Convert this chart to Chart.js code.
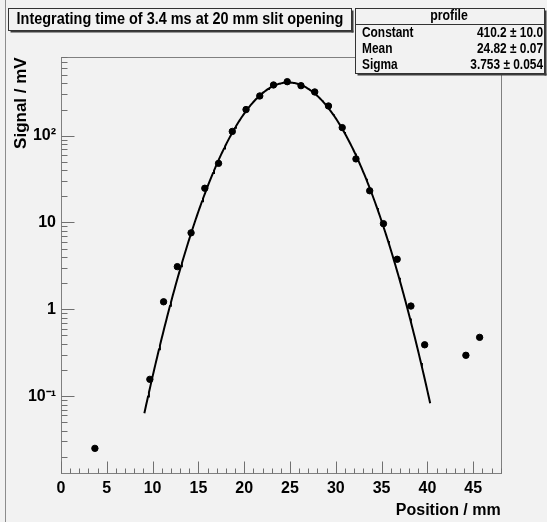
<!DOCTYPE html>
<html>
<head>
<meta charset="utf-8">
<script src="https://cdn.jsdelivr.net/npm/chart.js@4/dist/chart.umd.min.js"></script>
<style>
  html, body { margin: 0; padding: 0; background: #f2f2f2; }
</style>
</head>
<body>
<canvas id="ctx" width="547" height="522"></canvas>
<script>
// beam profile scan: position (mm) vs signal (mV)
const positions = [3.7, 9.7, 11.2, 12.7, 14.2, 15.7, 17.2, 18.7, 20.2, 21.7, 23.2, 24.7,
                   26.2, 27.7, 29.2, 30.7, 32.2, 33.7, 35.2, 36.7, 38.2, 39.7, 44.2, 45.7];
const signal = [0.025, 0.156, 1.22, 3.1, 7.6, 24.8, 48, 112, 200, 287, 384, 419,
                377, 319, 220, 124, 54, 23.2, 9.7, 3.77, 1.09, 0.39, 0.295, 0.475];

// gaussian fit result
const fitConstant = 410.2, fitConstantErr = 10.0;
const fitMean = 24.82, fitMeanErr = 0.07;
const fitSigma = 3.753, fitSigmaErr = 0.054;
const fitRange = [9.1, 40.3];

const xTickValues = [0, 5, 10, 15, 20, 25, 30, 35, 40, 45];
const yTickValues = [0.1, 1, 10, 100];
const yTickText = { 0.1: "10\u207B\u00B9", 1: "1", 10: "10", 100: "10\u00B2" };

const FONT = '"Liberation Sans", Arial, sans-serif';

const fitCurve = [];
for (let x = fitRange[0]; x <= fitRange[1] + 1e-9; x += 0.1) {
  const z = (x - fitMean) / fitSigma;
  fitCurve.push({ x: x, y: fitConstant * Math.exp(-0.5 * z * z) });
}

const points = positions.map((p, i) => ({ x: p, y: signal[i] }));

// text squeezed horizontally, like the narrow helvetica of the canvas
function narrowText(ctx, text, x, y, align, sx) {
  const w = ctx.measureText(text).width * sx;
  let left = x;
  if (align === "center") left = x - w / 2;
  if (align === "right") left = x - w;
  ctx.save();
  ctx.translate(left, y);
  ctx.scale(sx, 1);
  ctx.textAlign = "left";
  ctx.fillText(text, 0, 0);
  ctx.restore();
}

function drawPave(ctx, px, py, w, h) {
  ctx.fillStyle = "#3c3c3c";
  ctx.fillRect(px + 2, py + h, w, 2);
  ctx.fillRect(px + w, py + 2, 2, h);
  ctx.fillStyle = "#f2f2f2";
  ctx.fillRect(px, py, w, h);
  ctx.strokeStyle = "#333";
  ctx.strokeRect(px, py, w, h);
}

// frame, inner ticks, title and stats boxes drawn ROOT-style
const rootStyle = {
  id: "rootStyle",
  beforeDraw(chart) {
    const ctx = chart.ctx;
    ctx.save();
    ctx.fillStyle = "#f2f2f2";
    ctx.fillRect(0, 0, chart.width, chart.height);
    ctx.strokeStyle = "#8c8c8c";
    ctx.lineWidth = 1;
    ctx.beginPath();
    ctx.moveTo(5.5, 0);
    ctx.lineTo(5.5, chart.height);
    ctx.stroke();
    ctx.restore();
  },
  afterDraw(chart) {
    const { ctx, chartArea: a } = chart;
    const x = chart.scales.x, y = chart.scales.y;
    const L = Math.round(a.left) + 0.5, R = Math.round(a.right) + 0.5;
    const T = Math.round(a.top) + 0.5, B = Math.round(a.bottom) + 0.5;
    ctx.save();
    ctx.lineWidth = 1;
    ctx.strokeStyle = "#808080";
    ctx.strokeRect(L, T, R - L, B - T);

    ctx.strokeStyle = "#707070";
    ctx.beginPath();
    for (let v = Math.ceil(x.min); v <= x.max; v++) {
      const px = Math.round(x.getPixelForValue(v)) + 0.5;
      const len = v % 5 === 0 ? 12 : 5;
      ctx.moveTo(px, B);
      ctx.lineTo(px, B - len);
    }
    const e0 = Math.floor(Math.log10(y.min)), e1 = Math.ceil(Math.log10(y.max));
    for (let e = e0; e <= e1; e++) {
      for (let k = 1; k <= 9; k++) {
        const v = k * Math.pow(10, e);
        if (v < y.min || v > y.max) continue;
        const py = Math.round(y.getPixelForValue(v)) + 0.5;
        const len = k === 1 ? 13 : 6;
        ctx.moveTo(L, py);
        ctx.lineTo(L + len, py);
      }
    }
    ctx.stroke();

    ctx.textBaseline = "middle";

    // title pave
    drawPave(ctx, 8.5, 8.5, 343, 22);
    ctx.fillStyle = "#000";
    ctx.font = "bold 17px " + FONT;
    narrowText(ctx, "Integrating time of 3.4 ms at 20 mm slit opening", 180, 19.5, "center", 0.85);

    // stats pave
    drawPave(ctx, 355.5, 8.5, 189, 65);
    ctx.beginPath();
    ctx.moveTo(355.5, 24.5);
    ctx.lineTo(544.5, 24.5);
    ctx.strokeStyle = "#333";
    ctx.stroke();
    ctx.fillStyle = "#000";
    ctx.font = "bold 14px " + FONT;
    narrowText(ctx, "profile", 449, 16.5, "center", 0.88);
    const rows = [
      ["Constant", fitConstant.toFixed(1) + " \u00B1 " + fitConstantErr.toFixed(1)],
      ["Mean", fitMean.toFixed(2) + " \u00B1 " + fitMeanErr.toFixed(2)],
      ["Sigma", fitSigma.toFixed(3) + " \u00B1 " + fitSigmaErr.toFixed(3)]
    ];
    rows.forEach((r, i) => {
      const ty = 33.5 + i * 16;
      narrowText(ctx, r[0], 362, ty, "left", 0.85);
      narrowText(ctx, r[1], 543, ty, "right", 0.85);
    });
    ctx.restore();
  }
};

new Chart(document.getElementById("ctx"), {
  type: "scatter",
  data: {
    datasets: [
      {
        label: "profile",
        data: points,
        backgroundColor: "#000",
        borderColor: "#000",
        pointRadius: 3.2,
        pointHoverRadius: 3.2
      },
      {
        type: "line",
        label: "fit",
        data: fitCurve,
        borderColor: "#000",
        borderWidth: 2,
        pointRadius: 0,
        tension: 0,
        fill: false
      }
    ]
  },
  options: {
    responsive: false,
    animation: false,
    events: [],
    layout: { padding: { left: 0, top: 57.3, right: 46.3, bottom: 0 } },
    plugins: { legend: { display: false }, tooltip: { enabled: false } },
    scales: {
      x: {
        type: "linear",
        min: 0,
        max: 48,
        grid: { display: false, drawTicks: false },
        border: { display: false },
        afterFit: (s) => { s.height = 48.7; },
        afterBuildTicks: (s) => { s.ticks = xTickValues.map((v) => ({ value: v })); },
        ticks: {
          color: "#000",
          padding: 6,
          maxRotation: 0,
          font: { family: FONT, weight: "bold", size: 16 }
        },
        title: {
          display: true,
          text: "Position / mm",
          align: "end",
          color: "#000",
          padding: { top: 0, bottom: 2 },
          font: { family: FONT, weight: "bold", size: 16 }
        }
      },
      y: {
        type: "logarithmic",
        min: 0.0129,
        max: 800,
        grid: { display: false, drawTicks: false },
        border: { display: false },
        afterFit: (s) => { s.width = 61; },
        afterBuildTicks: (s) => { s.ticks = yTickValues.map((v) => ({ value: v })); },
        ticks: {
          color: "#000",
          padding: 5,
          font: { family: FONT, weight: "bold", size: 16 },
          callback: (v) => yTickText[v] || ""
        },
        title: {
          display: true,
          text: "Signal / mV",
          align: "end",
          color: "#000",
          padding: { top: 11, bottom: 0 },
          font: { family: FONT, weight: "bold", size: 17 }
        }
      }
    }
  },
  plugins: [rootStyle]
});
</script>
</body>
</html>
